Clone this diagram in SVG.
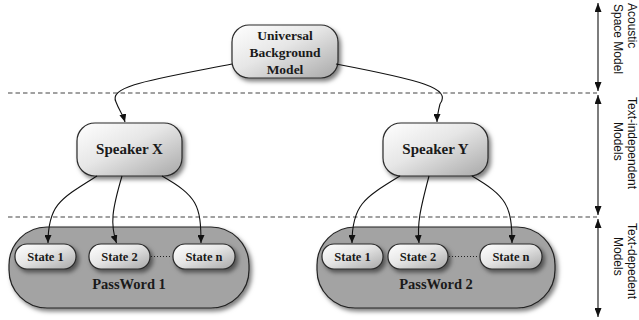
<svg xmlns="http://www.w3.org/2000/svg" width="639" height="320" viewBox="0 0 639 320">
<style>
.node{stroke:#2a2a2a;stroke-width:1.2;fill:url(#lg);filter:url(#sh)}
.big{stroke:#222;stroke-width:1.2;fill:#a3a3a3;filter:url(#sh)}
.t{font-family:"Liberation Serif",serif;font-weight:bold;fill:#1a1a1a;text-anchor:middle}
.lab{font-family:"Liberation Sans",Arial,sans-serif;font-size:12px;fill:#111}
.conn{fill:none;stroke:#111;stroke-width:1.1}
.dash{stroke:#444;stroke-width:1.2;stroke-dasharray:4.5,3;fill:none}
.axis{stroke:#111;stroke-width:1.1;fill:none}
</style>
<defs>
<linearGradient id="lg" x1="0" y1="0" x2="1" y2="1">
<stop offset="0" stop-color="#ffffff"/>
<stop offset="0.45" stop-color="#e6e6e6"/>
<stop offset="1" stop-color="#a8a8a8"/>
</linearGradient>
<filter id="sh" x="-20%" y="-20%" width="150%" height="160%">
<feDropShadow dx="2.5" dy="3" stdDeviation="2" flood-color="#000" flood-opacity="0.5"/>
</filter>
<marker id="ah" markerWidth="8" markerHeight="7" refX="8" refY="3.5" orient="auto" markerUnits="userSpaceOnUse">
<path d="M0,0 L8,3.5 L0,7 z" fill="#111"/>
</marker>
<marker id="ah2" markerWidth="9" markerHeight="7" refX="9" refY="3.5" orient="auto-start-reverse" markerUnits="userSpaceOnUse">
<path d="M0,0 L9,3.5 L0,7 z" fill="#111"/>
</marker>
</defs>

<g id="separators">
<line class="dash" x1="8" y1="93" x2="597" y2="93"/>
<line class="dash" x1="8" y1="217" x2="597" y2="217"/>
</g>

<g id="axis">
<line class="axis" x1="598" y1="3" x2="598" y2="91" marker-start="url(#ah2)" marker-end="url(#ah2)"/>
<line class="axis" x1="598" y1="95" x2="598" y2="215" marker-start="url(#ah2)" marker-end="url(#ah2)"/>
<line class="axis" x1="598" y1="219" x2="598" y2="317" marker-start="url(#ah2)" marker-end="url(#ah2)"/>
<text class="lab" transform="translate(628,3) rotate(90)">Acoustic</text>
<text class="lab" transform="translate(614,4) rotate(90)">Space Model</text>
<text class="lab" transform="translate(628,97) rotate(90)">Text-independent</text>
<text class="lab" transform="translate(614,122) rotate(90)">Models</text>
<text class="lab" transform="translate(628,223) rotate(90)">Text-depedent</text>
<text class="lab" transform="translate(614,237) rotate(90)">Models</text>
</g>

<g id="ubm">
<rect class="node" x="232" y="25" width="106" height="53" rx="17"/>
<text class="t" font-size="13.5" x="285" y="40">Universal</text>
<text class="t" font-size="13.5" x="285" y="57">Background</text>
<text class="t" font-size="13.5" x="285" y="74">Model</text>
</g>

<g id="speakerX">
<rect class="node" x="77" y="123" width="105" height="53" rx="18"/>
<text class="t" font-size="15" x="129.5" y="154">Speaker X</text>
</g>

<g id="speakerY">
<rect class="node" x="383" y="123" width="105" height="53" rx="18"/>
<text class="t" font-size="15" x="435.5" y="154">Speaker Y</text>
</g>

<g id="password1">
<rect class="big" x="9" y="227" width="240" height="81" rx="38"/>
<text class="t" font-size="14.5" x="129" y="289">PassWord 1</text>
</g>

<g id="password2">
<rect class="big" x="317" y="227" width="238" height="81" rx="38"/>
<text class="t" font-size="14.5" x="436" y="289">PassWord 2</text>
</g>

<g id="p1s1">
<rect class="node" x="15" y="244" width="61" height="25" rx="12"/>
<text class="t" font-size="12.5" x="45.5" y="260.5">State 1</text>
</g>
<g id="p1s2">
<rect class="node" x="89" y="244" width="61" height="25" rx="12"/>
<text class="t" font-size="12.5" x="119.5" y="260.5">State 2</text>
</g>
<g id="p1sn">
<rect class="node" x="173" y="244" width="62" height="25" rx="12"/>
<text class="t" font-size="12.5" x="204" y="260.5">State n</text>
</g>
<g id="p2s1">
<rect class="node" x="322" y="244" width="61" height="25" rx="12"/>
<text class="t" font-size="12.5" x="352.5" y="260.5">State 1</text>
</g>
<g id="p2s2">
<rect class="node" x="388" y="244" width="60" height="25" rx="12"/>
<text class="t" font-size="12.5" x="418" y="260.5">State 2</text>
</g>
<g id="p2sn">
<rect class="node" x="480" y="244" width="62" height="25" rx="12"/>
<text class="t" font-size="12.5" x="511" y="260.5">State n</text>
</g>

<g id="connectors">
<path class="conn" d="M232,64 C150,80 108,86 116,102 C119,110 123,115 125,122" marker-end="url(#ah)"/>
<path class="conn" d="M336,64 C420,80 452,88 440,104 C438,112 437,116 437,122" marker-end="url(#ah)"/>
<path class="conn" d="M97,176 C60,199 48,205 48,243" marker-end="url(#ah)"/>
<path class="conn" d="M122,176 C112,210 110,224 116.5,243" marker-end="url(#ah)"/>
<path class="conn" d="M162,176 C197,196 201,205 201,243" marker-end="url(#ah)"/>
<path class="conn" d="M400,176 C364,198 352,205 352,243" marker-end="url(#ah)"/>
<path class="conn" d="M429,176 C420,210 417,224 419,243" marker-end="url(#ah)"/>
<path class="conn" d="M472,176 C506,196 512,205 512,243" marker-end="url(#ah)"/>
<line x1="151" y1="256.5" x2="172" y2="256.5" stroke="#222" stroke-width="1" stroke-dasharray="1,2"/>
<line x1="449" y1="256.5" x2="479" y2="256.5" stroke="#222" stroke-width="1" stroke-dasharray="1,2"/>
</g>
</svg>
